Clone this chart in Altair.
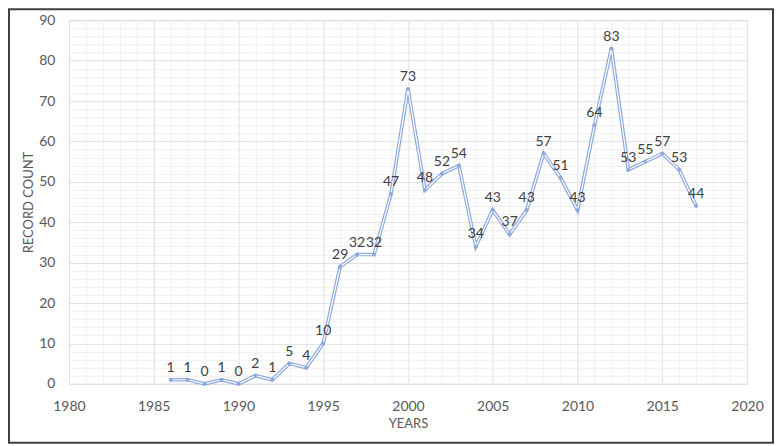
import altair as alt
import pandas as pd

years = list(range(1986, 2018))
counts = [1, 1, 0, 1, 0, 2, 1, 5, 4, 10, 29, 32, 32, 47, 73, 48, 52, 54, 34, 43,
          37, 43, 57, 51, 43, 64, 83, 53, 55, 57, 53, 44]

df = pd.DataFrame({"year": years, "count": counts})

FONT = "Lato"
W, H = 679, 364

xscale = alt.Scale(domain=[1980, 2020], nice=False, zero=False)
yscale = alt.Scale(domain=[0, 90], nice=False)

xaxis = alt.Axis(
    values=list(range(1980, 2021)),
    labelExpr="datum.value % 5 === 0 ? datum.label : ''",
    format="d",
    labelOverlap=False,
    labelFlush=False,
    ticks=False,
    domain=False,
    grid=True,
    gridColor={"condition": {"test": "datum.value % 5 === 0", "value": "#e0e0e0"}, "value": "#f0f0f0"},
    labelColor="#595959",
    labelFontSize=14,
    labelFont=FONT,
    labelPadding=16,
    title="YEARS",
    titleFont=FONT,
    titleFontSize=13,
    titleFontWeight="normal",
    titleColor="#595959",
    titlePadding=4,
)
yaxis = alt.Axis(
    values=list(range(0, 91, 2)),
    labelExpr="datum.value % 10 === 0 ? datum.label : ''",
    labelOverlap=False,
    labelFlush=False,
    ticks=False,
    domain=False,
    grid=True,
    gridColor={"condition": {"test": "datum.value % 10 === 0", "value": "#e0e0e0"}, "value": "#f0f0f0"},
    labelColor="#595959",
    labelFontSize=14,
    labelFont=FONT,
    labelPadding=14,
    title="RECORD COUNT",
    titleFont=FONT,
    titleFontSize=13,
    titleFontWeight="normal",
    titleColor="#595959",
    titlePadding=3,
)

base = alt.Chart(df).encode(
    x=alt.X("year:Q", scale=xscale, axis=xaxis),
    y=alt.Y("count:Q", scale=yscale, axis=yaxis),
)

outer = base.mark_line(color="#8EA9DB", strokeWidth=3.6, strokeJoin="miter")
inner = base.mark_line(color="#ffffff", strokeWidth=1.2, strokeJoin="miter")
pts = base.mark_circle(color="#8EA9DB", size=16, opacity=1)
labels = base.mark_text(dy=-12, fontSize=14, font=FONT, color="#404040").encode(text="count:Q")

frame = alt.Chart(pd.DataFrame({"a": [0]})).mark_rect(
    fill=None, stroke="#404040", strokeWidth=2
).encode(
    x=alt.value(-60), x2=alt.value(W + 26), y=alt.value(-11), y2=alt.value(H + 59)
)

chart = alt.layer(outer, inner, pts, labels, frame).properties(
    width=W, height=H,
    autosize=alt.AutoSizeParams(type="none"),
    padding={"left": 61, "top": 12, "right": 28, "bottom": 62},
).configure_view(stroke=None).configure(background="white")

chart.save("out.html", embed_options={"renderer": "svg", "actions": False})
